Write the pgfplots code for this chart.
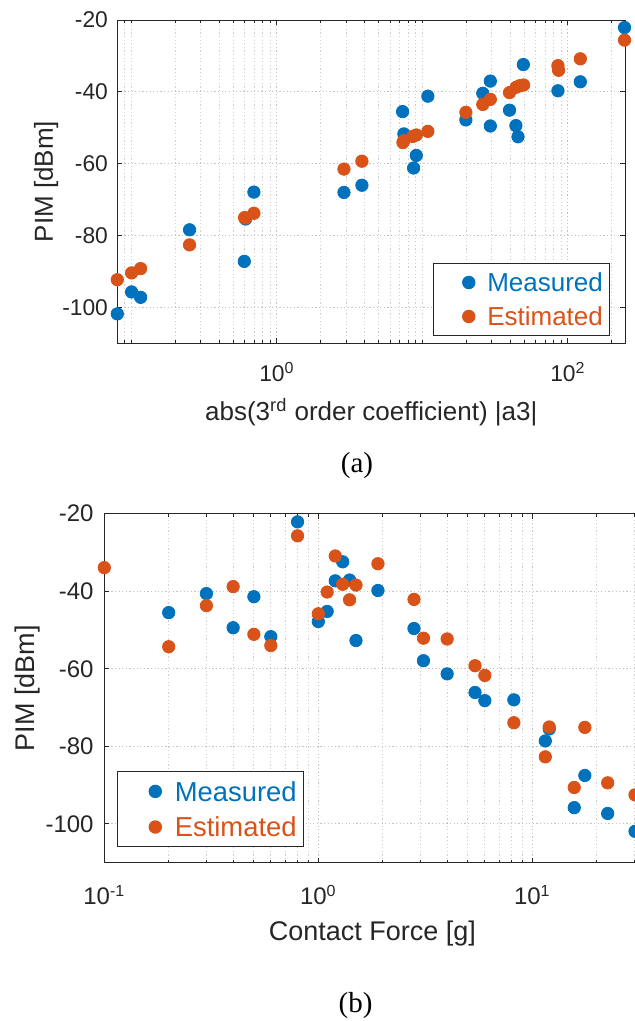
\documentclass[border=0pt]{standalone}
\usepackage{fontspec}
\setmainfont{Liberation Sans}
\newfontfamily\seriffont{Liberation Serif}
\usepackage{pgfplots}
\pgfplotsset{compat=1.18}
\definecolor{mblue}{RGB}{0,114,189}
\definecolor{morange}{RGB}{217,83,25}
\definecolor{axgray}{RGB}{38,38,38}
\definecolor{gridc}{RGB}{195,195,195}
\begin{document}
\begin{tikzpicture}
% ---------------- (a) ----------------
\begin{axis}[
  scale only axis, xmode=log, ymin=-110, ymax=-20, clip=false,
  ytick={-100,-80,-60,-40,-20}, yticklabels={-100,-80,-60,-40,-20},
  axis line style={axgray, line width=0.5pt},
  tick style={axgray, line width=0.5pt},
  major tick length=2.5pt, minor tick length=1.5pt, tick align=inside,
  xmajorgrids, xminorgrids, ymajorgrids,
  major grid style={gridc, line width=0.5pt, dash pattern=on 0.6pt off 1.2pt},
  minor grid style={gridc!80, line width=0.5pt, dash pattern=on 0.6pt off 1.2pt},
  legend cell align=left,
  at={(58.65pt,-171.65pt)}, anchor=south west,
  width=254pt, height=161.65pt,
  xmin=0.08, xmax=248,
  xtick={1,100}, xticklabels={10\textsuperscript{0},10\textsuperscript{2}},
  minor xtick={0.08,0.09,0.1,0.2,0.3,0.4,0.5,0.6,0.7,0.8,0.9,2,3,4,5,6,7,8,9,10,20,30,40,50,60,70,80,90,200},
  tick label style={font=\fontsize{11.4}{13}\selectfont, text=axgray},
  xticklabel style={anchor=base, inner sep=0pt, yshift=-19.2pt},
  yticklabel style={anchor=east, inner sep=0pt, xshift=-4.5pt},
  xlabel={abs(3\textsuperscript{rd} order coefficient) |a3|},
  xlabel style={font=\fontsize{13}{15}\selectfont, text=axgray, at={(axis description cs:0.5,0)}, anchor=base, yshift=-38.7pt},
  ylabel={PIM [dBm]},
  ylabel style={font=\fontsize{13}{15}\selectfont, text=axgray, at={(axis description cs:-0.1266,0.5)}, anchor=base},
  legend image code/.code={\path (0pt,0pt) (23pt,0pt); \draw[#1] plot coordinates {(16.3pt,0pt)};},
  legend style={at={(1,0)}, anchor=south east, xshift=-7.65pt, yshift=3.65pt,
    draw=axgray, line width=0.5pt, fill=white, inner xsep=1pt, inner ysep=1pt,
    row sep=0pt, column sep=0pt, font=\fontsize{13}{15}\selectfont,
    nodes={inner xsep=2.3pt, inner ysep=0pt, text height=13.15pt, text depth=3.85pt}},
]
\addplot[only marks, mark=*, color=mblue, mark size=3.1pt] coordinates {
(0.080,-101.8) (0.1003,-95.7) (0.1157,-97.2) (0.251,-78.4) (0.597,-87.2)
(0.609,-75.4) (0.695,-67.9) (2.89,-68.0) (3.84,-66.0) (7.31,-45.5)
(7.46,-51.7) (8.7,-61.2) (9.08,-57.7) (10.9,-41.2) (19.9,-47.8)
(26.0,-40.4) (29.3,-37.0) (29.3,-49.5) (39.7,-45.1) (43.9,-49.4)
(45.4,-52.5) (49.4,-32.4) (85.4,-39.7) (121.7,-37.2) (245,-22.1)
};
\addlegendentry{\textcolor{mblue}{Measured}}
\addplot[only marks, mark=*, color=morange, mark size=3.1pt] coordinates {
(0.080,-92.3) (0.1003,-90.4) (0.1157,-89.2) (0.251,-82.6) (0.600,-75.0)
(0.61,-75.1) (0.695,-73.8) (2.89,-61.5) (3.84,-59.3) (7.35,-54.1) (7.45,-53.6)
(8.6,-52.4) (9.08,-52.0) (10.9,-51.0) (19.9,-45.7) (26.0,-43.5)
(29.3,-42.1) (39.7,-40.2) (44.2,-38.7) (46.6,-38.3) (49.6,-38.1)
(85.4,-32.7) (86.3,-34.0) (121.7,-30.8) (245,-25.6)
};
\addlegendentry{\textcolor{morange}{Estimated}}
\end{axis}
% ---------------- (b) ----------------
\begin{axis}[
  scale only axis, xmode=log, ymin=-110, ymax=-20, clip=false,
  ytick={-100,-80,-60,-40,-20}, yticklabels={-100,-80,-60,-40,-20},
  axis line style={axgray, line width=0.5pt},
  tick style={axgray, line width=0.5pt},
  major tick length=2.5pt, minor tick length=1.5pt, tick align=inside,
  xmajorgrids, xminorgrids, ymajorgrids,
  major grid style={gridc, line width=0.5pt, dash pattern=on 0.6pt off 1.2pt},
  minor grid style={gridc!80, line width=0.5pt, dash pattern=on 0.6pt off 1.2pt},
  legend cell align=left,
  at={(52.15pt,-431.35pt)}, anchor=south west,
  width=268.05pt, height=174.5pt,
  xmin=0.1, xmax=32,
  xtick={0.1,1,10}, xticklabels={10\textsuperscript{-1},10\textsuperscript{0},10\textsuperscript{1}},
  minor xtick={0.2,0.3,0.4,0.5,0.6,0.7,0.8,0.9,2,3,4,5,6,7,8,9,20,30},
  tick label style={font=\fontsize{12}{14}\selectfont, text=axgray},
  xticklabel style={anchor=base, inner sep=0pt, yshift=-21.1pt},
  yticklabel style={anchor=east, inner sep=0pt, xshift=-5.15pt},
  xlabel={Contact Force [g]},
  xlabel style={font=\fontsize{13.5}{16}\selectfont, text=axgray, at={(axis description cs:0.5,0)}, anchor=base, yshift=-38.65pt},
  ylabel={PIM [dBm]},
  ylabel style={font=\fontsize{13.5}{16}\selectfont, text=axgray, at={(axis description cs:-0.1293,0.5)}, anchor=base},
  legend image code/.code={\path (0pt,0pt) (25pt,0pt); \draw[#1] plot coordinates {(17.8pt,0pt)};},
  legend style={at={(0,0)}, anchor=south west, xshift=6.2pt, yshift=7.7pt,
    draw=axgray, line width=0.5pt, fill=white, inner xsep=1pt, inner ysep=1pt,
    row sep=0pt, column sep=0pt, font=\fontsize{13.7}{16}\selectfont,
    nodes={inner xsep=2.3pt, inner ysep=0pt, text height=13.7pt, text depth=4.1pt}},
]
\addplot[only marks, mark=*, color=mblue, mark size=3.1pt] coordinates {
(0.2,-45.5) (0.3,-40.6) (0.4,-49.4) (0.5,-41.4) (0.6,-51.7)
(0.8,-22.1) (1.0,-47.8) (1.1,-45.2) (1.2,-37.3) (1.3,-32.4)
(1.4,-37.1) (1.5,-52.7) (1.9,-39.8) (2.8,-49.6) (3.1,-57.9)
(4.0,-61.3) (5.4,-66.1) (6.0,-68.2) (8.2,-68.0) (12.0,-75.5)
(11.5,-78.6) (17.6,-87.5) (15.7,-95.8) (22.5,-97.3) (30.2,-101.9)
};
\addlegendentry{\textcolor{mblue}{Measured}}
\addplot[only marks, mark=*, color=morange, mark size=3.1pt] coordinates {
(0.1,-33.9) (0.2,-54.3) (0.3,-43.7) (0.4,-38.8) (0.5,-51.1)
(0.6,-54.0) (0.8,-25.7) (1.0,-45.8) (1.1,-40.2) (1.2,-30.9)
(1.3,-38.2) (1.4,-42.2) (1.5,-38.4) (1.9,-32.9) (2.8,-42.1)
(3.1,-52.1) (4.0,-52.3) (5.4,-59.2) (6.0,-61.7) (8.2,-73.9)
(12.0,-75.0) (11.5,-82.7) (17.6,-75.1) (15.7,-90.6) (22.5,-89.4)
(30.2,-92.5)
};
\addlegendentry{\textcolor{morange}{Estimated}}
\end{axis}
\node[font=\seriffont\fontsize{14.5}{16}\selectfont, text=black, inner sep=0pt] at (178.5pt,-232.9pt) {(a)};
\node[font=\seriffont\fontsize{14.5}{16}\selectfont, text=black, inner sep=0pt] at (177.75pt,-502.9pt) {(b)};
\pgfresetboundingbox
\path[use as bounding box] (0pt,0pt) rectangle (317.5pt,-510.5pt);
\end{tikzpicture}
\end{document}
